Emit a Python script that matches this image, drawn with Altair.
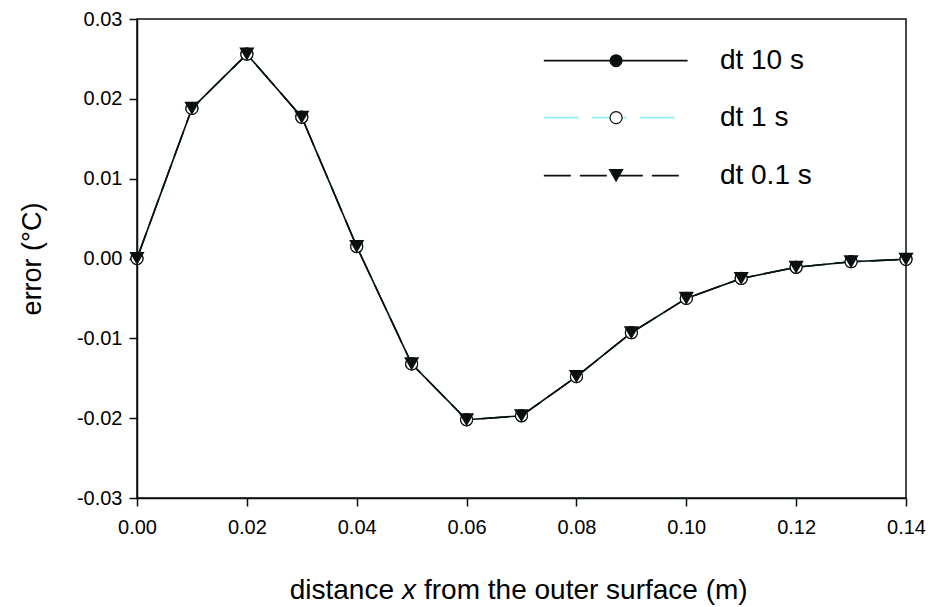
import altair as alt
import pandas as pd

# ---- data ----
X_POS = [0.00, 0.01, 0.02, 0.03, 0.04, 0.05, 0.06, 0.07, 0.08, 0.09, 0.10, 0.11, 0.12, 0.13, 0.14]
ERR_DT10 = [0.0000, 0.0188, 0.0256, 0.0177, 0.0015, -0.0132, -0.0202, -0.0197, -0.0148, -0.0093, -0.0050, -0.0025, -0.0011, -0.0004, -0.0001]
ERR_DT1 = [0.0000, 0.0188, 0.0256, 0.0177, 0.0015, -0.0132, -0.0202, -0.0197, -0.0148, -0.0093, -0.0050, -0.0025, -0.0011, -0.0004, -0.0001]
ERR_DT01 = [0.0000, 0.0188, 0.0256, 0.0177, 0.0015, -0.0132, -0.0202, -0.0197, -0.0148, -0.0093, -0.0050, -0.0025, -0.0011, -0.0004, -0.0001]
SERIES = ["dt 10 s", "dt 1 s", "dt 0.1 s"]
X_TICKS = [0.00, 0.02, 0.04, 0.06, 0.08, 0.10, 0.12, 0.14]
Y_TICKS = [-0.03, -0.02, -0.01, 0.00, 0.01, 0.02, 0.03]

X_DOMAIN = [0.0, 0.14]
Y_DOMAIN = [-0.03, 0.03]

FONT = "Liberation Sans"
BLACK = "#0a0f0f"
CYAN = "#8eeef2"
LABEL_EXPR = "replace(format(datum.value, '.2f'), '\u2212', '-')"

rows = []
for name, vals in zip(SERIES, [ERR_DT10, ERR_DT1, ERR_DT01]):
    for xv, yv in zip(X_POS, vals):
        rows.append({"x": xv, "err": yv, "series": name})
df = pd.DataFrame(rows)

xs = alt.Scale(domain=X_DOMAIN, nice=False, zero=False)
ys = alt.Scale(domain=Y_DOMAIN, nice=False, zero=False)

xenc = alt.X("x:Q", scale=xs, axis=alt.Axis(values=X_TICKS, labelExpr=LABEL_EXPR, title=None,
                                           labelFontSize=20, labelPadding=11, tickSize=8,
                                           labelFont=FONT, labelColor="black", labelFlush=False,
                                           domainColor=BLACK, tickColor=BLACK,
                                           domainWidth=1.5, tickWidth=1.5, grid=False))
yenc = alt.Y("err:Q", scale=ys, axis=alt.Axis(values=Y_TICKS, labelExpr=LABEL_EXPR, title="error (°C)",
                                              labelFontSize=20, labelPadding=7, tickSize=8,
                                              labelFont=FONT, labelColor="black", labelFlush=False,
                                              titleFont=FONT, titleFontSize=27, titleFontWeight="normal",
                                              titleColor="black", titleX=-105, titleY=239.5,
                                              titleAngle=-90, titleBaseline="middle",
                                              domainColor=BLACK, tickColor=BLACK,
                                              domainWidth=1.5, tickWidth=1.5, grid=False))

base = alt.Chart(df)

def sel(name):
    return base.transform_filter(alt.datum.series == name)

line1 = sel("dt 1 s").mark_line(color=CYAN, strokeWidth=1.6, strokeDash=[35, 13]).encode(x=xenc, y=yenc)
line10 = sel("dt 10 s").mark_line(color=BLACK, strokeWidth=1.6).encode(x=xenc, y=yenc)
line01 = sel("dt 0.1 s").mark_line(color=BLACK, strokeWidth=1.6, strokeDash=[27, 9]).encode(x=xenc, y=yenc)
pts10 = sel("dt 10 s").mark_point(shape="circle", filled=True, color=BLACK, size=170, opacity=1).encode(x=xenc, y=yenc)
pts1 = sel("dt 1 s").mark_point(shape="circle", filled=True, fill="white", stroke=BLACK, strokeWidth=1.2, size=145, opacity=1).encode(x=xenc, y=yenc)
pts01 = sel("dt 0.1 s").mark_point(shape="triangle-down", filled=True, color=BLACK, size=230, opacity=1).encode(x=xenc, y=yenc)

# ---- manual legend (layout placed in the upper right of the plot area) ----
LEG_X0 = X_DOMAIN[0] + 0.529 * (X_DOMAIN[1] - X_DOMAIN[0])
LEG_X1 = X_DOMAIN[0] + 0.716 * (X_DOMAIN[1] - X_DOMAIN[0])
LEG_XM = X_DOMAIN[0] + 0.623 * (X_DOMAIN[1] - X_DOMAIN[0])
LEG_XT = X_DOMAIN[0] + 0.758 * (X_DOMAIN[1] - X_DOMAIN[0])
LEG_Y = [Y_DOMAIN[0] + f * (Y_DOMAIN[1] - Y_DOMAIN[0]) for f in (0.913, 0.794, 0.673)]

leg = pd.DataFrame({"series": SERIES, "x0": [LEG_X0] * 3, "x1": [LEG_X1] * 3,
                    "xm": [LEG_XM] * 3, "xt": [LEG_XT] * 3, "y": LEG_Y})
lbase = alt.Chart(leg)
lx0 = alt.X("x0:Q", scale=xs)
lx1 = alt.X2("x1:Q")
lxm = alt.X("xm:Q", scale=xs)
lyy = alt.Y("y:Q", scale=ys)

def lsel(name):
    return lbase.transform_filter(alt.datum.series == name)

leg_l10 = lsel("dt 10 s").mark_rule(color=BLACK, strokeWidth=1.6).encode(x=lx0, x2=lx1, y=lyy)
leg_l1 = lsel("dt 1 s").mark_rule(color=CYAN, strokeWidth=1.6, strokeDash=[35, 13]).encode(x=lx0, x2=lx1, y=lyy)
leg_l01 = lsel("dt 0.1 s").mark_rule(color=BLACK, strokeWidth=1.6, strokeDash=[27, 9]).encode(x=lx0, x2=lx1, y=lyy)
leg_p10 = lsel("dt 10 s").mark_point(shape="circle", filled=True, color=BLACK, size=170, opacity=1).encode(x=lxm, y=lyy)
leg_p1 = lsel("dt 1 s").mark_point(shape="circle", filled=True, fill="white", stroke=BLACK, strokeWidth=1.2, size=145, opacity=1).encode(x=lxm, y=lyy)
leg_p01 = lsel("dt 0.1 s").mark_point(shape="triangle-down", filled=True, color=BLACK, size=230, opacity=1).encode(x=lxm, y=lyy)
leg_t = lbase.mark_text(align="left", baseline="middle", font=FONT, fontSize=28, color="black").encode(
    x=alt.X("xt:Q", scale=xs), y=lyy, text="series:N")

# ---- x-axis title with italic x ----
TITLE_Y = 580
t_a = alt.Chart(pd.DataFrame({"t": ["distance"]})).mark_text(
    align="right", baseline="alphabetic", font=FONT, fontSize=28, color="black").encode(
    x=alt.value(257), y=alt.value(TITLE_Y), text="t:N")
t_b = alt.Chart(pd.DataFrame({"t": ["x"]})).mark_text(
    align="center", baseline="alphabetic", font=FONT, fontSize=28, fontStyle="italic", color="black").encode(
    x=alt.value(272), y=alt.value(TITLE_Y), text="t:N")
t_c = alt.Chart(pd.DataFrame({"t": ["from the outer surface (m)"]})).mark_text(
    align="left", baseline="alphabetic", font=FONT, fontSize=28, color="black").encode(
    x=alt.value(287), y=alt.value(TITLE_Y), text="t:N")

chart = alt.layer(
    line1, line10, line01, pts10, pts1, pts01,
    leg_l10, leg_l1, leg_l01, leg_p10, leg_p1, leg_p01, leg_t,
    t_a, t_b, t_c,
).properties(
    width=769, height=479,
    autosize=alt.AutoSizeParams(type="none"),
    padding={"left": 137, "top": 19, "right": 22, "bottom": 109},
    background="white",
).configure_view(stroke=BLACK, strokeWidth=1.5)

chart.save("out.html", embed_options={"renderer": "svg", "actions": False})
